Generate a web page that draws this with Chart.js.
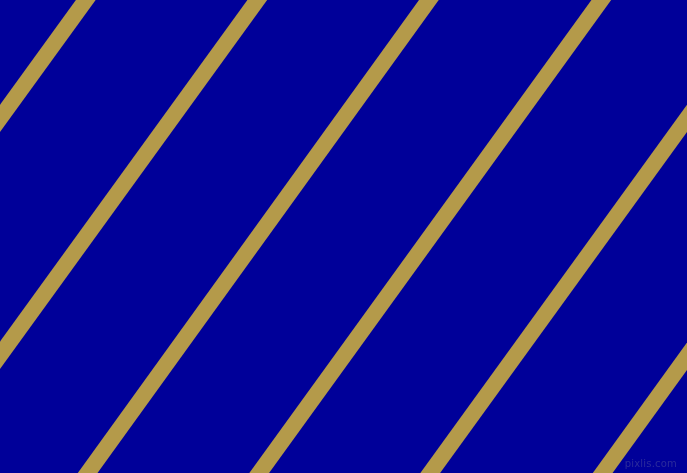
<!DOCTYPE html>
<html>
<head>
<meta charset="utf-8">
<script src="https://cdn.jsdelivr.net/npm/chart.js@4/dist/chart.umd.min.js"></script>
<style>
  html, body { margin: 0; padding: 0; background: #000099; overflow: hidden; }
  #wrap { position: relative; width: 687px; height: 473px; background: #000099; }
  #mark {
    position: absolute; right: 10px; bottom: 4px;
    font-family: "DejaVu Sans", sans-serif; font-size: 10px;
    color: #2b2b9c; letter-spacing: 0.2px;
  }
</style>
</head>
<body>
<div id="wrap">
  <canvas id="stripes"></canvas>
  <div id="mark">pixlis.com</div>
</div>
<script>
// stripe centre x a little above the top edge (y=-30) and a little below the bottom edge (y=503),
// so the square line ends fall outside the picture
var topX    = [107.5, 279, 450.5, 623, 794.5, 966];
var bottomX = [-278.5, -107, 66, 237.5, 408.5, 581];
var edgeY   = [-30, 503];

var stripeColor = "#b49a4a";

var datasets = [];
for (var i = 0; i < topX.length; i++) {
    datasets.push({
        data: [{x: topX[i], y: edgeY[0]}, {x: bottomX[i], y: edgeY[1]}],
        showLine: true,
        borderColor: stripeColor,
        borderWidth: 16,
        pointRadius: 0,
        tension: 0,
        clip: 0
    });
}

new Chart(document.getElementById("stripes"), {
    type: "scatter",
    data: { datasets: datasets },
    options: {
        responsive: true,
        maintainAspectRatio: false,
        animation: false,
        layout: { padding: 0 },
        plugins: { legend: { display: false }, tooltip: { enabled: false } },
        scales: {
            x: { type: "linear", min: 0, max: 687, display: false },
            y: { type: "linear", min: 0, max: 473, reverse: true, display: false }
        }
    }
});
</script>
</body>
</html>
